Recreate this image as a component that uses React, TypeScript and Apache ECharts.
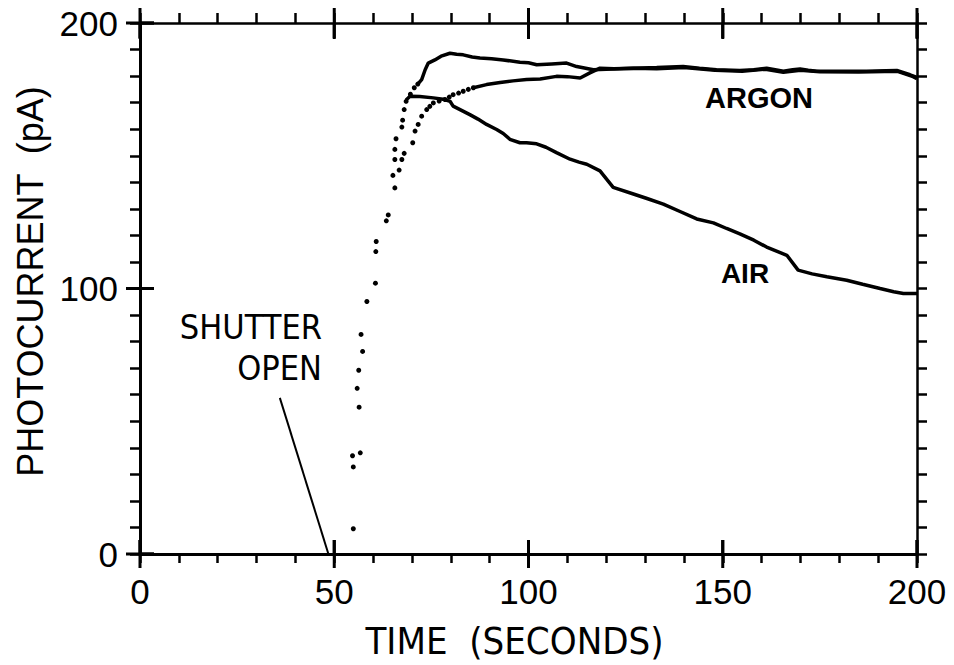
import React, { useEffect, useRef } from "react";
import * as echarts from "echarts";

// Shared rise after the shutter opens (individual dots)
const riseDots: [number, number][] = [
  [54.9, 9.5], [54.9, 32.8], [54.7, 37.0], [56.7, 38.1], [56.4, 55.3], [55.9, 62.4],
  [56.3, 69.2], [57.3, 76.3], [56.9, 82.7], [58.4, 95.1], [60.6, 102.0], [60.7, 113.9],
  [60.8, 117.7], [63.4, 125.5], [63.9, 127.7], [65.6, 137.9], [65.1, 142.6], [66.7, 144.6],
  [65.6, 148.6], [67.4, 148.6], [68.0, 150.9], [65.6, 152.4], [65.9, 156.4], [67.4, 160.8],
  [67.6, 163.4], [68.0, 167.4], [68.5, 170.5], [69.6, 173.2], [70.6, 175.6], [71.5, 177.0],
];

// Argon run 1 (overshoot)
const argon1: [number, number][] = [
  [71.5, 177.0], [72.5, 178.7], [73.4, 182.4], [74.2, 184.9], [75.9, 186.1], [77.5, 187.5],
  [79.8, 188.6], [81.5, 188.2], [83.2, 188.0], [85.5, 187.2], [87.5, 186.8], [90.5, 186.5],
  [93.5, 186.1], [97.8, 185.2], [100.0, 185.0], [102.1, 184.3], [106.0, 184.6], [109.8, 184.9],
  [112.4, 183.6], [116.7, 182.4], [120.0, 182.6], [127.0, 183.0], [133.0, 183.2], [139.8, 183.6],
  [144.0, 183.0], [148.4, 182.4], [154.4, 182.1], [158.0, 182.4], [161.3, 183.0], [163.5, 182.4],
  [165.6, 181.8], [168.0, 182.4], [169.9, 182.7], [172.0, 182.2], [174.2, 181.8], [180.0, 181.8],
  [187.0, 181.8], [192.0, 182.0], [194.8, 182.1], [198.2, 180.5], [200.0, 179.5],
];

// Argon run 2 (slower rise): dotted start, then solid
const argon2Dots: [number, number][] = [
  [70.2, 154.9], [70.8, 159.3], [71.6, 161.8], [72.5, 164.9], [73.8, 167.4], [74.6, 168.6],
  [75.5, 169.9], [77.0, 170.6], [78.5, 171.2], [79.6, 172.1], [80.6, 173.0], [82.0, 173.6],
  [83.2, 174.3], [84.5, 175.0], [85.8, 175.6],
];
const argon2: [number, number][] = [
  [85.8, 175.6], [89.2, 176.8], [92.7, 177.6], [96.0, 178.2], [99.5, 178.7], [103.0, 178.9],
  [107.2, 179.9], [110.0, 179.8], [113.3, 179.3], [115.8, 181.2], [118.4, 183.0], [122.0, 182.8],
  [127.0, 183.0], [133.0, 182.8], [140.0, 183.2], [148.0, 182.2], [155.0, 181.8], [161.0, 182.6],
  [165.6, 181.4], [170.0, 182.2], [175.0, 181.6], [185.0, 181.5], [195.0, 181.8], [199.0, 179.8],
  [200.0, 179.0],
];

// Air
const air: [number, number][] = [
  [68.5, 171.0], [69.5, 172.4], [72.0, 172.3], [75.5, 171.8], [78.0, 171.3], [79.8, 170.5],
  [80.6, 168.7], [82.5, 167.3], [84.9, 165.5], [87.0, 163.8], [89.2, 161.8], [91.8, 159.9],
  [93.5, 158.4], [95.2, 156.2], [97.8, 154.9], [99.5, 154.9], [102.1, 154.5], [104.5, 153.2],
  [107.2, 151.2], [110.7, 148.7], [113.0, 147.6], [115.0, 146.8], [118.4, 144.3], [121.8, 138.1],
  [127.0, 135.6], [130.5, 133.9], [134.7, 131.8], [139.0, 129.0], [143.3, 126.2], [147.6, 124.7],
  [151.0, 122.6], [154.4, 120.6], [158.0, 118.2], [161.3, 115.6], [164.0, 114.0], [166.5, 112.5],
  [169.4, 106.9], [173.0, 105.5], [176.8, 104.4], [181.9, 103.1], [186.0, 101.6], [190.5, 100.0],
  [194.0, 98.8], [196.5, 98.1], [200.0, 98.1],
];

// Pointer from "SHUTTER OPEN" label to the time axis
const shutterPointer: [number, number][] = [[36.0, 58.8], [48.5, 0]];

// Major tick values (labelled, and drawn crossing the frame)
const xMajorTicks = [0, 50, 100, 150, 200];
const yMajorTicks = [0, 100, 200];

const X_MIN = 0, X_MAX = 200, Y_MIN = 0, Y_MAX = 200;

const SANS = "'Liberation Sans', Arial, sans-serif";
const NARROW = "'Liberation Sans Narrow', 'DejaVu Sans Condensed', 'Liberation Sans', sans-serif";
const BLACK = "#000";

export default function App() {
  const ref = useRef<HTMLDivElement>(null);
  useEffect(() => {
    if (!ref.current) return;
    const chart = echarts.init(ref.current, undefined, { renderer: "svg" });

    const baseX = {
      type: "value" as const,
      min: X_MIN,
      max: X_MAX,
      interval: 10,
      splitLine: { show: false },
    };
    const baseY = {
      type: "value" as const,
      min: Y_MIN,
      max: Y_MAX,
      interval: 10,
      splitLine: { show: false },
    };
    const tickStyle = { color: BLACK, width: 2.5 };
    const tickLine = { stroke: BLACK, lineWidth: 3 };

    // crossing major ticks drawn as thin rect symbols centred on the frame
    const crossTick = (name: string, data: number[][], size: number[]) => ({
      type: "scatter",
      name,
      data,
      symbol: "rect",
      symbolSize: size,
      silent: true,
      clip: false,
      z: 5,
      itemStyle: { color: BLACK, opacity: 1 },
    });

    chart.setOption({
      animation: false,
      backgroundColor: "#fff",
      grid: { left: 140, top: 23, width: 777, height: 534, containLabel: false },
      xAxis: [
        {
          ...baseX,
          position: "bottom",
          axisLine: { onZero: false, lineStyle: { color: BLACK, width: 3 } },
          axisTick: { length: 9, lineStyle: tickStyle },
          axisLabel: {
            margin: 20,
            fontSize: 35,
            fontFamily: SANS,
            color: BLACK,
            formatter: (v: number) => (xMajorTicks.includes(v) ? String(v) : ""),
          },
          name: "TIME  (SECONDS)",
          nameLocation: "middle",
          nameGap: 68,
          nameTextStyle: { fontSize: 38, fontFamily: NARROW, color: BLACK, padding: [0, 28, 0, 0] },
        },
        {
          ...baseX,
          position: "top",
          axisLine: { onZero: false, lineStyle: { color: BLACK, width: 2.5 } },
          axisTick: { length: 10, lineStyle: tickStyle },
          axisLabel: { show: false },
        },
      ],
      yAxis: [
        {
          ...baseY,
          position: "left",
          axisLine: { onZero: false, lineStyle: { color: BLACK, width: 3 } },
          axisTick: { length: 10, lineStyle: tickStyle },
          axisLabel: {
            margin: 22,
            fontSize: 35,
            fontFamily: SANS,
            color: BLACK,
            formatter: (v: number) => (yMajorTicks.includes(v) ? String(v) : ""),
          },
          name: "PHOTOCURRENT  (pA)",
          nameLocation: "middle",
          nameGap: 92,
          nameTextStyle: { fontSize: 36, fontFamily: SANS, color: BLACK, padding: [0, 0, 0, 14] },
        },
        {
          ...baseY,
          position: "right",
          axisLine: { onZero: false, lineStyle: { color: BLACK, width: 2.5 } },
          axisTick: { length: 10, lineStyle: tickStyle },
          axisLabel: { show: false },
        },
      ],
      series: [
        {
          type: "scatter",
          name: "rise",
          data: riseDots,
          symbol: "circle",
          symbolSize: 5,
          itemStyle: { color: BLACK, opacity: 1 },
        },
        {
          type: "scatter",
          name: "argon run 2 (start)",
          data: argon2Dots,
          symbol: "circle",
          symbolSize: 5,
          itemStyle: { color: BLACK, opacity: 1 },
        },
        {
          type: "line",
          name: "argon run 1",
          data: argon1,
          showSymbol: false,
          lineStyle: { color: BLACK, width: 3.5 },
        },
        {
          type: "line",
          name: "argon run 2",
          data: argon2,
          showSymbol: false,
          lineStyle: { color: BLACK, width: 3.5 },
        },
        {
          type: "line",
          name: "air",
          data: air,
          showSymbol: false,
          lineStyle: { color: BLACK, width: 3.5 },
        },
        {
          type: "line",
          name: "shutter pointer",
          data: shutterPointer,
          showSymbol: false,
          lineStyle: { color: BLACK, width: 2 },
        },
        crossTick("bottom major ticks", xMajorTicks.map((v) => [v, Y_MIN]), [3, 28]),
        crossTick("top major ticks", xMajorTicks.map((v) => [v, Y_MAX]), [3, 30]),
        crossTick("left major ticks", yMajorTicks.map((v) => [X_MIN, v]), [28, 3]),
        {
          // same crossing ticks again through a custom series (backup rendering path)
          type: "custom",
          name: "x major ticks (inner)",
          silent: true,
          z: 6,
          data: xMajorTicks.map((v) => [v, Y_MIN]),
          renderItem: (_p: any, api: any) => {
            const x = api.value(0);
            const b = api.coord([x, Y_MIN]);
            const t = api.coord([x, Y_MAX]);
            return {
              type: "group",
              children: [
                { type: "line", shape: { x1: b[0], y1: b[1], x2: b[0], y2: b[1] - 14 }, style: { ...tickLine } },
                { type: "line", shape: { x1: t[0], y1: t[1], x2: t[0], y2: t[1] + 16 }, style: { ...tickLine } },
              ],
            };
          },
        },
        {
          type: "custom",
          name: "y major ticks (inner)",
          silent: true,
          z: 6,
          data: yMajorTicks.map((v) => [X_MIN, v]),
          renderItem: (_p: any, api: any) => {
            const l = api.coord([X_MIN, api.value(1)]);
            return {
              type: "line",
              shape: { x1: l[0], y1: l[1], x2: l[0] + 14, y2: l[1] },
              style: { ...tickLine },
            };
          },
        },
      ],
      graphic: [
        {
          type: "text",
          style: {
            text: "ARGON", x: 759, y: 98, align: "center", verticalAlign: "middle",
            fontSize: 29, fontWeight: "bold", fontFamily: SANS, fill: BLACK,
          },
        },
        {
          type: "text",
          style: {
            text: "AIR", x: 745, y: 273, align: "center", verticalAlign: "middle",
            fontSize: 28, fontWeight: "bold", fontFamily: SANS, fill: BLACK,
          },
        },
        {
          type: "text",
          style: {
            text: "SHUTTER", x: 322, y: 327, align: "right", verticalAlign: "middle",
            fontSize: 34, fontFamily: NARROW, fill: BLACK,
          },
        },
        {
          type: "text",
          style: {
            text: "OPEN", x: 322, y: 368, align: "right", verticalAlign: "middle",
            fontSize: 34, fontFamily: NARROW, fill: BLACK,
          },
        },
      ],
    });

    return () => chart.dispose();
  }, []);

  return (
    <div
      ref={ref}
      style={{ position: "absolute", left: 0, top: 0, width: 954, height: 665, background: "#fff" }}
    />
  );
}
